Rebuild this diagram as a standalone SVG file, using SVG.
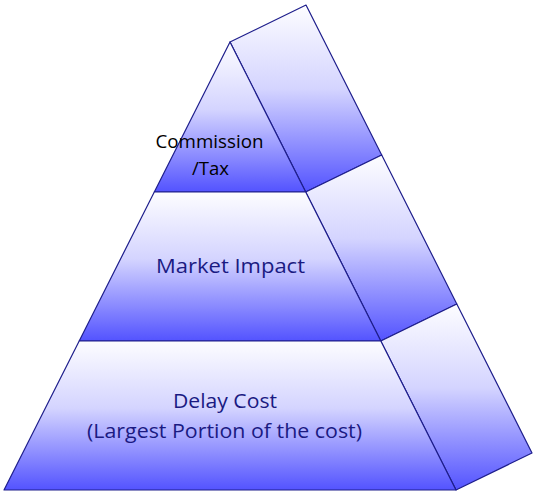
<svg xmlns="http://www.w3.org/2000/svg" width="536" height="494" viewBox="0 0 536 494">
<defs>
<linearGradient id="g" x1="0" y1="0" x2="0" y2="1">
<stop offset="0" stop-color="#fdfdff"/>
<stop offset="0.45" stop-color="#d4d4ff"/>
<stop offset="1" stop-color="#5353ff"/>
</linearGradient>
</defs>
<style>
.face{fill:url(#g);stroke:#1e1e8c;stroke-width:1.2;stroke-linejoin:round}
.lbl{font-family:"Open Sans","Liberation Sans",Arial,sans-serif;text-anchor:middle}
.navy{fill:#1a1a82}
</style>
<rect width="536" height="494" fill="#ffffff"/>
<g id="side-top"><polygon class="face" points="230,42 306,5 381.7,155 305.7,192"/></g>
<g id="side-middle"><polygon class="face" points="305.7,192 381.7,155 456.8,304 380.8,341"/></g>
<g id="side-bottom"><polygon class="face" points="380.8,341 456.8,304 532,453 456,490"/></g>
<g id="tier-commission">
<polygon class="face" points="230,42 305.7,192 154.3,192"/>
<text class="lbl" x="209.5" y="148" font-size="18" fill="#000000" textLength="108" lengthAdjust="spacingAndGlyphs">Commission</text>
<text class="lbl" x="210.5" y="175" font-size="18" fill="#000000" textLength="37" lengthAdjust="spacingAndGlyphs">/Tax</text>
</g>
<g id="tier-market">
<polygon class="face" points="154.3,192 305.7,192 380.8,341 79.2,341"/>
<text class="lbl navy" x="230.5" y="273" font-size="20.5" textLength="149" lengthAdjust="spacingAndGlyphs">Market Impact</text>
</g>
<g id="tier-delay">
<polygon class="face" points="79.2,341 380.8,341 456,490 4,490"/>
<text class="lbl navy" x="225" y="408" font-size="19.5" textLength="104" lengthAdjust="spacingAndGlyphs">Delay Cost</text>
<text class="lbl navy" x="224.5" y="438" font-size="19.5" textLength="275" lengthAdjust="spacingAndGlyphs">(Largest Portion of the cost)</text>
</g>
<g id="connectors"></g>
</svg>
